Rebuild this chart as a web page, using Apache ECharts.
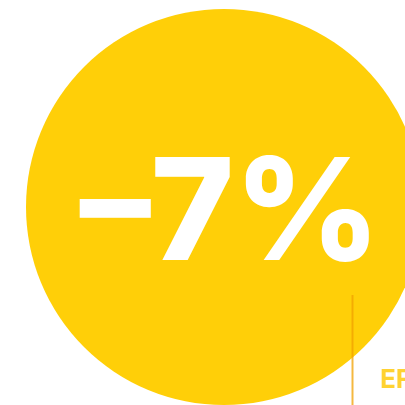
<!DOCTYPE html>
<html><head><meta charset="utf-8">
<script src="https://cdn.jsdelivr.net/npm/echarts@6/dist/echarts.min.js"></script>
<style>html,body{margin:0;padding:0;background:#fff}#c{width:405px;height:405px}</style>
</head><body><div id="c"></div>
<script>
const categories = ['Change'];
const values = [-7];
const labels = ['–7%'];
const sideText = ['EF'];

const chart = echarts.init(document.getElementById('c'), null, {renderer: 'canvas'});
chart.setOption({
  animation: false,
  series: [{
    type: 'pie',
    center: [224, 207],
    radius: [0, 198],
    silent: true,
    itemStyle: {color: '#FFCF08'},
    label: {
      show: true,
      position: 'center',
      formatter: () => labels[0],
      color: '#ffffff',
      fontFamily: 'Inter',
      fontWeight: 800,
      fontSize: 142,
      offset: [6, 10]
    },
    labelLine: {show: false},
    data: categories.map((c, i) => ({name: c, value: Math.abs(values[i])}))
  }],
  graphic: [
    {type: 'line', shape: {x1: 352.5, y1: 295, x2: 352.5, y2: 405}, style: {stroke: 'rgba(240,160,0,0.75)', lineWidth: 2}, z: 10},
    {type: 'text', left: 380, top: 367, style: {text: sideText[0], fill: '#FFD232', font: 'bold 26px Inter'}, z: 10}
  ]
});
</script></body></html>
